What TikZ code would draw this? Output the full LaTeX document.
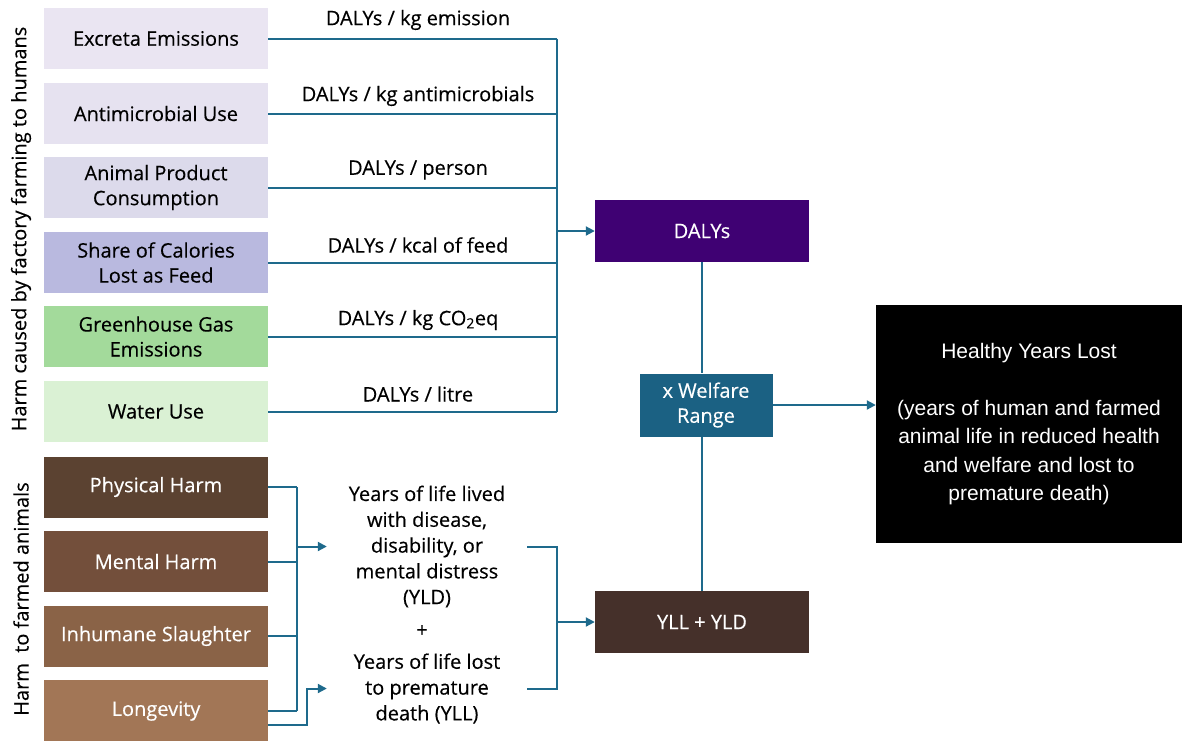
\documentclass[tikz,border=0pt]{standalone}
\usepackage{fontspec}
\setmainfont{Open Sans}[FakeBold=0.35]
\newfontfamily\helv{Liberation Sans}
\usetikzlibrary{arrows.meta,calc}
\definecolor{ln}{HTML}{1E6A8C}
\definecolor{cA}{HTML}{EAE5F2}
\definecolor{cB}{HTML}{E6E2F0}
\definecolor{cC}{HTML}{DCDAEB}
\definecolor{cD}{HTML}{B9B9DF}
\definecolor{cE}{HTML}{A3DA9B}
\definecolor{cF}{HTML}{DAF1D4}
\definecolor{cG}{HTML}{5B4231}
\definecolor{cH}{HTML}{734F3B}
\definecolor{cI}{HTML}{8A6347}
\definecolor{cJ}{HTML}{A27656}
\definecolor{cDaly}{HTML}{3F0173}
\definecolor{cWel}{HTML}{1B6183}
\definecolor{cYll}{HTML}{45302A}
\begin{document}
\begin{tikzpicture}[x=1pt,y=-1pt,
  every node/.style={font=\fontsize{20}{25}\selectfont, inner sep=0pt},
  lbox/.style={minimum width=224pt, minimum height=61pt, align=center},
  dbox/.style={lbox, text=white},
  cbox/.style={minimum width=214pt, minimum height=62pt, text=white, align=center},
  conn/.style={draw=ln, line width=2pt},
  arr/.style={conn, -{Triangle[length=9pt,width=9pt]}},
  lab/.style={anchor=center}]
\useasboundingbox (0,0) rectangle (1182,740);
% left boxes
\node[lbox, fill=cA] (b1) at (156,38.5) {Excreta Emissions};
\node[lbox, fill=cB] (b2) at (156,113.5) {Antimicrobial Use};
\node[lbox, fill=cC] (b3) at (156,187.5) {Animal Product\\Consumption};
\node[lbox, fill=cD] (b4) at (156,262.5) {Share of Calories\\Lost as Feed};
\node[lbox, fill=cE] (b5) at (156,336.5) {Greenhouse Gas\\Emissions};
\node[lbox, fill=cF] (b6) at (156,411.5) {Water Use};
\node[dbox, fill=cG] (b7) at (156,487) {Physical Harm};
\node[dbox, fill=cH] (b8) at (156,561.5) {Mental Harm};
\node[dbox, fill=cI] (b9) at (156,636) {Inhumane Slaughter};
\node[dbox, fill=cJ, minimum height=62pt] (b10) at (156,711) {Longevity};
% side labels
\node[rotate=90] (s1) at (21,229) {Harm caused by factory farming to humans};
\node[rotate=90] (s2) at (21,599) {Harm\ \ to farmed animals};
% line labels
\node (l1) at (418,20) {DALYs / kg emission};
\node (l2) at (418,96) {DALYs / kg antimicrobials};
\node (l3) at (418,170) {DALYs / person};
\node (l4) at (418,245) {DALYs / kcal of feed};
\node (l5) at (418,320) {DALYs / kg CO\textsubscript{2}eq};
\node (l6) at (418,394) {DALYs / litre};
% centre boxes
\node[cbox, fill=cDaly] (daly) at (702,231) {DALYs};
\node[minimum width=133pt, minimum height=63pt, fill=cWel, text=white, align=center] (wel) at (706,405) {x Welfare\\Range};
\node[cbox, fill=cYll] (yllb) at (702,622) {YLL + YLD};
\node[minimum width=306pt, minimum height=238pt, fill=black, text=white, align=center,
  font=\helv\fontsize{21}{28.5}\selectfont] (hyl) at (1029,424)
  {Healthy Years Lost\\[28.5pt](years of human and farmed\\animal life in reduced health\\and welfare and lost to\\premature death)};
% text nodes
\node[minimum width=200pt, align=center, font=\fontsize{20}{25.8}\selectfont] (yld) at (427,546.5)
  {Years of life lived\\with disease,\\disability, or\\mental distress\\(YLD)};
\node (plus) at (422,631) {+};
\node[minimum width=200pt, align=center, font=\fontsize{20}{25.8}\selectfont] (yll) at (427,688.5)
  {Years of life lost\\to premature\\death (YLL)};
% upper bus
\coordinate (bx) at (557,0);
\foreach \i in {1,...,6} {\draw[conn] (b\i.east) -- (b\i.east -| bx);}
\draw[conn] (b1.east -| bx) -- (b6.east -| bx);
\draw[arr] (daly.west -| bx) -- (daly.west);
% centre vertical
\draw[conn] (daly.south) -- (daly.south |- wel.north);
\draw[conn] (daly.south |- wel.south) -- (yllb.north);
\draw[arr] (wel.east) -- (wel.east -| hyl.west);
% lower bus
\coordinate (lx) at (297,0);
\foreach \i in {7,...,10} {\draw[conn] (b\i.east) -- (b\i.east -| lx);}
\draw[conn] (b7.east -| lx) -- (b10.east -| lx);
\draw[arr] (yld.west -| lx) -- (yld.west);
\coordinate (lg) at ($(b10.east)+(0,14)$);
\draw[arr] (lg) -- ++(39,0) |- (yll.west);
% right bracket
\coordinate (rx) at (557,0);
\draw[conn] (yld.east) -- (yld.east -| rx) -- (yll.east -| rx) -- (yll.east);
\draw[arr] (yllb.west -| rx) -- (yllb.west);
\end{tikzpicture}
\end{document}
